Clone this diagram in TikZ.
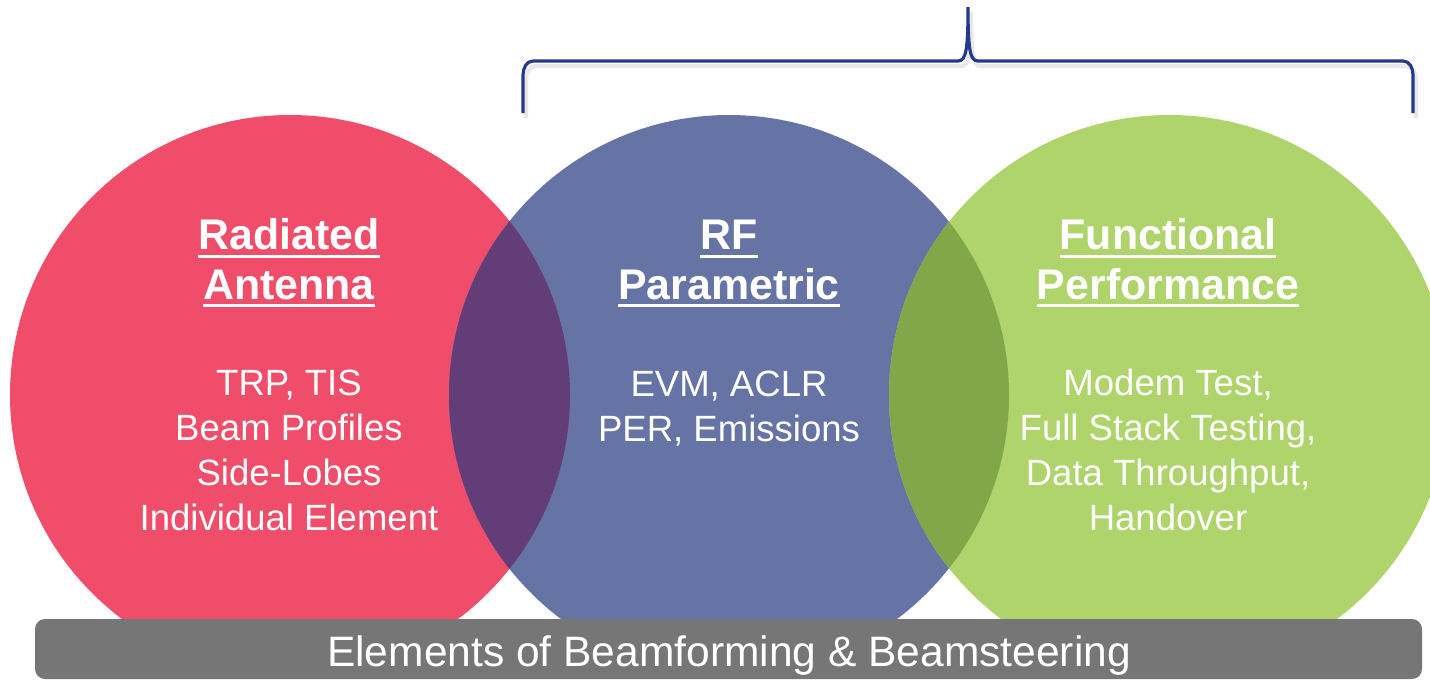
\documentclass[tikz,border=0pt]{standalone}
\usepackage{fontspec}
\setmainfont{Liberation Sans}
\usepackage{tikz}

\definecolor{radred}{HTML}{EF4D6A}
\definecolor{rfblue}{HTML}{6673A5}
\definecolor{funcgreen}{HTML}{AFD46B}
\definecolor{redblue}{HTML}{623D77}
\definecolor{bluegreen}{HTML}{80A84B}
\definecolor{bargray}{HTML}{767676}
\definecolor{bracenavy}{HTML}{24398A}

% thick underline as in the slide
\newcommand{\thickul}[1]{\setbox0=\hbox{#1}\leavevmode\rlap{\rule[-2.3pt]{\wd0}{0.85pt}}\box0}

\tikzset{
  title/.style={text=white, align=center, anchor=base,
    font=\fontsize{12.2}{14}\selectfont\bfseries},
  body/.style={text=white, align=center, anchor=base,
    font=\fontsize{10.4}{12.8}\selectfont},
}

\begin{document}
\begin{tikzpicture}
\useasboundingbox (0,0) rectangle (14.3,6.8);
\clip (0,0) rectangle (14.3,6.8);

% Circles
\fill[radred] (2.90,2.85) circle (2.80);
\fill[rfblue] (7.29,2.85) circle (2.80);
\fill[funcgreen] (11.69,2.85) circle (2.80);
\begin{scope}
  \clip (2.90,2.85) circle (2.80);
  \fill[redblue] (7.29,2.85) circle (2.80);
\end{scope}
\begin{scope}
  \clip (7.29,2.85) circle (2.80);
  \fill[bluegreen] (11.69,2.85) circle (2.80);
\end{scope}

% Brace
\draw[gray!18, line width=1.2pt, shift={(0.03,-0.05)}] (5.23,5.67) -- (5.23,6.05) to[out=90,in=180] (5.33,6.19) -- (9.58,6.19)
  .. controls (9.66,6.19) and (9.68,6.30) .. (9.68,6.73)
  .. controls (9.68,6.30) and (9.70,6.19) .. (9.78,6.19)
  -- (14.03,6.19) to[out=0,in=90] (14.13,6.05) -- (14.13,5.67);
\draw[bracenavy, line width=0.9pt] (5.23,5.67) -- (5.23,6.05) to[out=90,in=180] (5.33,6.19) -- (9.58,6.19)
  .. controls (9.66,6.19) and (9.68,6.30) .. (9.68,6.73)
  .. controls (9.68,6.30) and (9.70,6.19) .. (9.78,6.19)
  -- (14.03,6.19) to[out=0,in=90] (14.13,6.05) -- (14.13,5.67);

% Radiated Antenna
\node[title] (radtitle) at (2.89,3.81) {\thickul{Radiated}\\\thickul{Antenna}};
\node[body] (radbody) at (2.89,1.50) {TRP, TIS\\Beam Profiles\\Side-Lobes\\Individual Element};

% RF Parametric
\node[title] (rftitle) at (7.29,3.81) {\thickul{RF}\\\thickul{Parametric}};
\node[body] (rfbody) at (7.29,2.39) {EVM, ACLR\\PER, Emissions};

% Functional Performance
\node[title] (functitle) at (11.68,3.81) {\thickul{Functional}\\\thickul{Performance}};
\node[body] (funcbody) at (11.68,1.50) {Modem Test,\\Full Stack Testing,\\Data Throughput,\\Handover};

% Bottom bar
\fill[bargray, rounded corners=0.1cm] (0.35,0.01) rectangle (14.22,0.61);
\node[text=white, font=\fontsize{12.1}{14}\selectfont] (barlabel) at (7.29,0.25) {Elements of Beamforming \& Beamsteering};

\end{tikzpicture}
\end{document}
